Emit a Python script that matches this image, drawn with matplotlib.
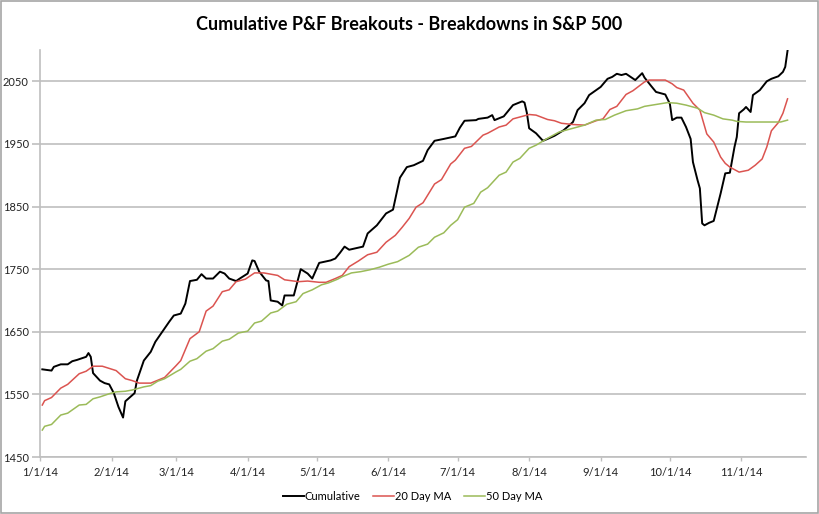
import pandas as pd
import matplotlib.pyplot as plt
from matplotlib.patches import Rectangle

# ===== Data (m/d, year 2014) =====
cum_dates = [
    "1/2", "1/6", "1/7", "1/10", "1/13", "1/15", "1/17", "1/21", "1/22", "1/23",
    "1/24", "1/27", "1/29", "1/31", "2/2", "2/4", "2/6", "2/7", "2/11", "2/12",
    "2/15", "2/18", "2/20", "2/23", "2/26", "2/28", "3/3", "3/5", "3/7", "3/10",
    "3/12", "3/14", "3/17", "3/20", "3/22", "3/24", "3/27", "3/29", "4/1", "4/3",
    "4/4", "4/6", "4/9", "4/10", "4/11", "4/14", "4/16", "4/17", "4/21", "4/24",
    "4/27", "4/29", "5/2", "5/7", "5/9", "5/11", "5/13", "5/15", "5/21", "5/23",
    "5/27", "5/31", "6/3", "6/6", "6/9", "6/12", "6/16", "6/18", "6/21", "6/25",
    "6/30", "7/2", "7/4", "7/9", "7/10", "7/14", "7/16", "7/17", "7/21", "7/25",
    "7/29", "7/30", "7/31", "8/1", "8/4", "8/7", "8/9", "8/12", "8/16", "8/20",
    "8/22", "8/25", "8/27", "9/1", "9/4", "9/6", "9/8", "9/10", "9/12", "9/16",
    "9/19", "9/20", "9/23", "9/25", "9/29", "10/1", "10/2", "10/4", "10/6", "10/8",
    "10/10", "10/11", "10/13", "10/14", "10/15", "10/16", "10/18", "10/20", "10/23", "10/25",
    "10/27", "10/29", "10/30", "10/31", "11/2", "11/3", "11/5", "11/6", "11/9", "11/12",
    "11/14", "11/17", "11/19", "11/20", "11/21",
]
cum_values = [
    1590, 1588, 1594, 1598, 1598, 1603, 1605, 1610, 1616, 1610,
    1584, 1572, 1568, 1566, 1552, 1530, 1513, 1539, 1552, 1572,
    1604, 1618, 1634, 1650, 1666, 1676, 1679, 1695, 1731, 1733,
    1742, 1735, 1735, 1746, 1743, 1735, 1731, 1736, 1743, 1764,
    1763, 1746, 1732, 1731, 1700, 1698, 1692, 1708, 1708, 1750,
    1743, 1735, 1760, 1764, 1767, 1776, 1786, 1781, 1786, 1807,
    1820, 1839, 1845, 1896, 1913, 1916, 1923, 1940, 1955, 1958,
    1962, 1976, 1987, 1988, 1990, 1992, 1996, 1988, 1994, 2012,
    2018, 2016, 2000, 1975, 1967, 1955, 1958, 1963, 1972, 1985,
    2004, 2015, 2028, 2041, 2054, 2057, 2062, 2060, 2062, 2052,
    2063, 2056, 2042, 2033, 2029, 2014, 1988, 1992, 1992, 1977,
    1958, 1921, 1892, 1879, 1823, 1820, 1824, 1827, 1871, 1903,
    1904, 1945, 1961, 1999, 2005, 2009, 2001, 2028, 2036, 2050,
    2054, 2058, 2065, 2073, 2099,
]

ma20_dates = [
    "1/2", "1/3", "1/6", "1/10", "1/13", "1/18", "1/21", "1/24", "1/28", "2/3",
    "2/7", "2/10", "2/13", "2/18", "2/24", "3/1", "3/3", "3/7", "3/11", "3/14",
    "3/17", "3/21", "3/24", "3/27", "3/31", "4/4", "4/8", "4/14", "4/17", "4/23",
    "4/27", "5/2", "5/5", "5/9", "5/12", "5/15", "5/19", "5/23", "5/27", "5/31",
    "6/4", "6/7", "6/10", "6/13", "6/16", "6/21", "6/24", "6/28", "6/30", "7/4",
    "7/7", "7/12", "7/14", "7/19", "7/22", "7/25", "7/28", "8/1", "8/4", "8/9",
    "8/12", "8/15", "8/20", "8/25", "8/30", "9/2", "9/5", "9/8", "9/12", "9/15",
    "9/20", "9/22", "9/29", "10/2", "10/4", "10/7", "10/11", "10/14", "10/17", "10/20",
    "10/23", "10/25", "10/27", "10/31", "11/4", "11/7", "11/10", "11/12", "11/14", "11/17",
    "11/19", "11/21",
]
ma20_values = [
    1533, 1540, 1545, 1560, 1566, 1583, 1587, 1595, 1595, 1588,
    1575, 1572, 1568, 1568, 1577, 1596, 1604, 1639, 1650, 1683,
    1691, 1714, 1717, 1730, 1734, 1744, 1744, 1740, 1733, 1730,
    1731, 1729, 1729, 1735, 1740, 1754, 1763, 1773, 1777, 1793,
    1804, 1817, 1831, 1849, 1856, 1886, 1893, 1918, 1924, 1943,
    1946, 1964, 1967, 1977, 1980, 1990, 1993, 1997, 1996, 1989,
    1987, 1983, 1981, 1980, 1987, 1990, 2005, 2010, 2029, 2035,
    2049, 2052, 2052, 2046, 2040, 2036, 2015, 2004, 1966, 1953,
    1929, 1919, 1913, 1905, 1908, 1916, 1926, 1945, 1971, 1984,
    1999, 2022,
]

ma50_dates = [
    "1/2", "1/3", "1/6", "1/10", "1/13", "1/18", "1/21", "1/24", "1/27", "1/31",
    "2/3", "2/7", "2/10", "2/15", "2/18", "2/21", "2/24", "3/1", "3/3", "3/7",
    "3/10", "3/14", "3/17", "3/21", "3/24", "3/28", "4/1", "4/4", "4/7", "4/11",
    "4/14", "4/18", "4/22", "4/25", "4/29", "5/3", "5/6", "5/10", "5/12", "5/16",
    "5/20", "5/24", "5/28", "6/1", "6/5", "6/10", "6/14", "6/18", "6/21", "6/25",
    "6/28", "7/1", "7/4", "7/8", "7/11", "7/14", "7/19", "7/22", "7/25", "7/28",
    "8/1", "8/4", "8/9", "8/14", "8/20", "8/25", "8/30", "9/3", "9/7", "9/12",
    "9/17", "9/20", "9/25", "9/30", "10/4", "10/8", "10/13", "10/16", "10/20", "10/24",
    "10/28", "10/30", "11/3", "11/12", "11/18", "11/21",
]
ma50_values = [
    1493, 1499, 1502, 1517, 1520, 1533, 1534, 1543, 1546, 1551,
    1554, 1555, 1557, 1562, 1564, 1571, 1575, 1586, 1590, 1603,
    1607, 1619, 1623, 1635, 1638, 1648, 1651, 1664, 1667, 1680,
    1683, 1694, 1698, 1711, 1717, 1725, 1728, 1734, 1738, 1744,
    1746, 1749, 1753, 1758, 1762, 1772, 1785, 1790, 1801, 1808,
    1820, 1829, 1849, 1855, 1873, 1880, 1900, 1905, 1921, 1927,
    1943, 1948, 1959, 1969, 1975, 1980, 1988, 1989, 1996, 2003,
    2006, 2010, 2013, 2016, 2015, 2012, 2007, 2000, 1996, 1990,
    1988, 1986, 1985, 1985, 1985, 1988,
]

month_labels = ["1/1/14", "2/1/14", "3/1/14", "4/1/14", "5/1/14", "6/1/14",
                "7/1/14", "8/1/14", "9/1/14", "10/1/14", "11/1/14"]
y_ticks = [1450, 1550, 1650, 1750, 1850, 1950, 2050]


def to_dates(days):
    return pd.to_datetime([d + "/14" for d in days], format="%m/%d/%y")


def main():
    plt.rcParams["font.family"] = ["Lato", "DejaVu Sans"]
    grid_gray = "#bfbfbf"

    fig = plt.figure(figsize=(8.2, 5.14), dpi=100)
    ax = fig.add_axes([40 / 820, 1 - 457 / 514, 766 / 820, 407 / 514])

    # ===== lines =====
    ax.plot(to_dates(cum_dates), cum_values, color="black", linewidth=1.4, label="Cumulative")
    ax.plot(to_dates(ma20_dates), ma20_values, color="#db5450", linewidth=1.1, label="20 Day MA")
    ax.plot(to_dates(ma50_dates), ma50_values, color="#9bbb59", linewidth=1.1, label="50 Day MA")

    # ===== axes =====
    ax.set_ylim(1450, 2100)
    ax.set_yticks(y_ticks)
    ax.set_xlim(pd.Timestamp("2014-01-01"), pd.Timestamp("2014-11-29"))
    ax.set_xticks(pd.to_datetime(month_labels, format="%m/%d/%y"))
    ax.set_xticklabels(month_labels)

    ax.yaxis.grid(True, color=grid_gray, linewidth=1.2)
    ax.set_axisbelow(True)
    for side in ["top", "right"]:
        ax.spines[side].set_visible(False)
    for side in ["left", "bottom"]:
        ax.spines[side].set_color(grid_gray)
        ax.spines[side].set_linewidth(1.2)
    ax.tick_params(axis="y", length=6, width=1.2, color=grid_gray, pad=2,
                   labelsize=8, labelcolor="#222222")
    ax.tick_params(axis="x", length=3, width=1, color=grid_gray, pad=4,
                   labelsize=8, labelcolor="#222222")

    # ===== title / legend / border =====
    fig.text(0.499, 1 - 25 / 514, "Cumulative P&F Breakouts - Breakdowns in S&P 500",
             ha="center", va="center", fontsize=13, fontweight="bold")
    fig.legend(loc="center", bbox_to_anchor=(0.503, 1 - 496 / 514), ncol=3,
               frameon=False, fontsize=8, handlelength=1.9, handletextpad=0.1,
               columnspacing=1.1)
    fig.patches.append(Rectangle((0.001, 0.002), 0.997, 0.996, transform=fig.transFigure,
                                 fill=False, edgecolor="#a6a6a6", linewidth=1.2))

    fig.savefig("out.png", dpi=100)


if __name__ == "__main__":
    main()
